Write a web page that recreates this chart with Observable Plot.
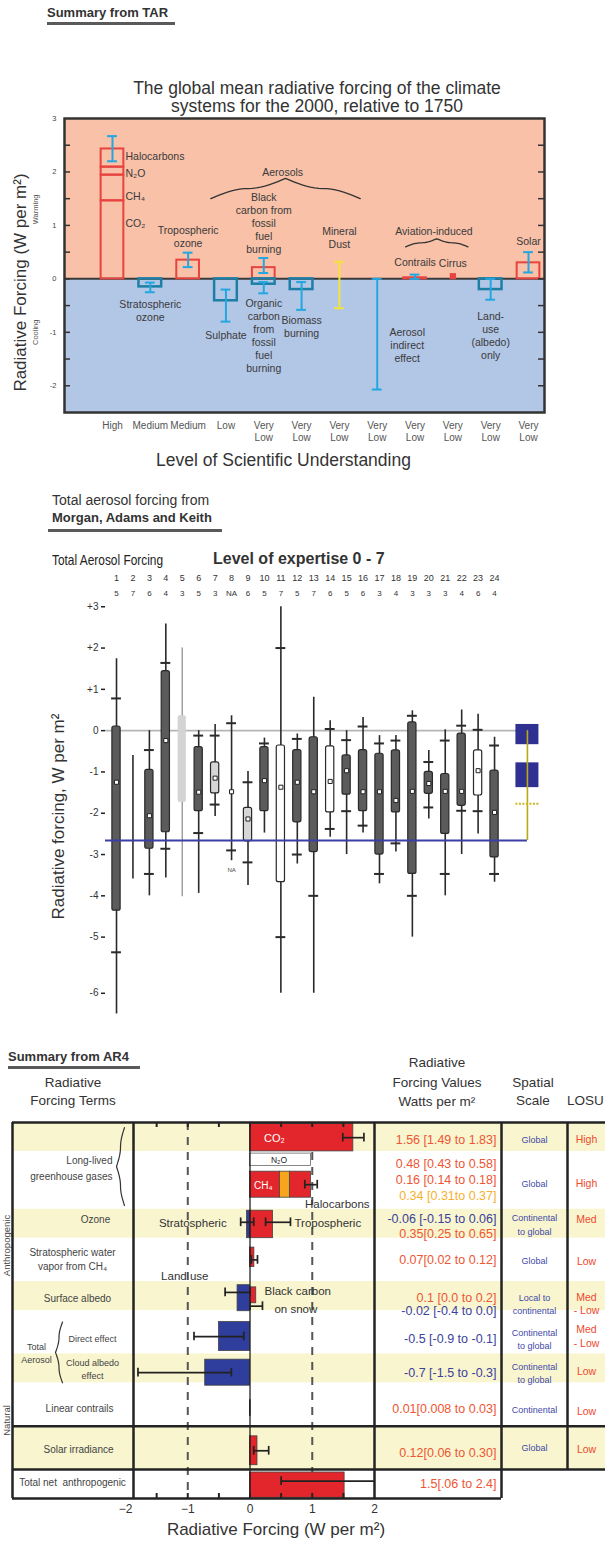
<!DOCTYPE html>
<html><head><meta charset="utf-8"><title>Radiative forcing summaries</title>
<script src="https://cdn.jsdelivr.net/npm/d3@7"></script>
<script src="https://cdn.jsdelivr.net/npm/@observablehq/plot@0.6"></script>
<style>
html,body{margin:0;padding:0;background:#fff;}
#page{position:relative;width:605px;height:1541px;overflow:hidden;font-family:'Liberation Sans',Arial,Helvetica,sans-serif;color:#222;}
.t{position:absolute;white-space:nowrap;line-height:1.2;}
.c{text-align:center;}
.rule{position:absolute;background:#5a5a5a;}
.rot{position:absolute;width:120px;height:11px;line-height:11px;text-align:center;transform:rotate(-90deg);font-size:9.5px;color:#444;}
</style></head>
<body><div id="page">
<div class="t" style="left:47px;top:5px;font-size:13px;font-weight:bold;color:#333">Summary from TAR</div>
<div class="rule" style="left:47px;top:22px;width:128px;height:3px;"></div>
<div class="t c" style="left:67px;top:79px;width:500px;font-size:17.5px;line-height:18px;color:#333">The global mean radiative forcing of the climate<br>systems for the 2000, relative to 1750</div>

<div class="t" style="left:52px;top:492px;font-size:14px;color:#333">Total aerosol forcing from</div>
<div class="t" style="left:52px;top:510px;font-size:13px;font-weight:bold;color:#333">Morgan, Adams and Keith</div>
<div class="rule" style="left:48px;top:529px;width:174px;height:3px;"></div>
<div class="t" style="left:52px;top:552px;font-size:14.5px;color:#222;transform:scaleX(0.82);transform-origin:0 50%;">Total Aerosol Forcing</div>
<div class="t" style="left:213px;top:549px;font-size:16px;font-weight:bold;color:#333">Level of expertise 0 - 7</div>

<div class="t" style="left:8px;top:1049px;font-size:13px;font-weight:bold;color:#333">Summary from AR4</div>
<div class="rule" style="left:8px;top:1066px;width:132px;height:2.5px;"></div>
<div class="t c" style="left:13px;top:1074px;width:120px;font-size:13.5px;line-height:18px;color:#333">Radiative<br>Forcing Terms</div>
<div class="t c" style="left:372px;top:1053px;width:130px;font-size:13.5px;line-height:19.5px;color:#333">Radiative<br>Forcing Values<br>Watts per m²</div>
<div class="t c" style="left:493px;top:1074px;width:80px;font-size:13.5px;line-height:18px;color:#333">Spatial<br>Scale</div>
<div class="t" style="left:567px;top:1092px;font-size:13.5px;line-height:18px;color:#333">LOSU</div>
<div class="rot" style="left:-54px;top:1240px;">Anthropogenic</div>
<div class="rot" style="left:-54px;top:1415px;">Natural</div>
</div>
<script>
// ===================== DATA: TAR summary =====================
const tarSlots = ["Well-mixed greenhouse gases","Stratospheric ozone","Tropospheric ozone","Sulphate","Fossil fuel carbon","Biomass burning","Mineral dust","Aerosol indirect effect","Contrails","Cirrus","Land-use (albedo) only","Solar"];
const tarLosu = ["High","Medium","Medium","Low","Very\nLow","Very\nLow","Very\nLow","Very\nLow","Very\nLow","Very\nLow","Very\nLow","Very\nLow"];
const tarBarTerm = ["CO₂","CH₄","N₂O","Halocarbons","Stratospheric ozone","Tropospheric ozone","Sulphate","Black carbon","Organic carbon","Biomass burning","Contrails","Land use","Solar"];
const tarBarSlot = [0,0,0,0,1,2,3,4,4,5,8,10,11];
const tarBarFrom = [0,1.46,1.94,2.09,0,0,0,0,0,0,0,0,0];
const tarBarTo   = [1.46,1.94,2.09,2.43,-0.15,0.35,-0.41,0.21,-0.1,-0.2,0.02,-0.2,0.3];
const tarErrSlot = [0,1,2,3,4,4,5,6,7,8,10,11];
const tarErrLo   = [2.2,-0.25,0.22,-0.8,0.11,-0.27,-0.58,-0.55,-2.07,0,-0.39,0.12];
const tarErrHi   = [2.67,-0.07,0.49,-0.2,0.39,-0.06,-0.06,0.32,0,0.08,0,0.5];
const tarPointSlot = [9];      // cirrus
const tarPointValue = [0.05];
const tarYTicks = [-2,-1,0,1,2,3];

// ===================== DATA: Morgan, Adams & Keith =====================
const experts = d3.range(1, 25);
const expertise = ["5","7","6","4","3","5","3","NA","6","5","7","5","7","6","5","6","3","4","3","3","3","4","6","4"];
const wMax      = [1.74,-0.6,0,2.58,2.0,0,0.15,0.36,-0.99,-0.18,3.0,-0.08,0.81,0.24,0,0.32,-0.12,-0.12,0.48,-0.48,0.02,0.5,0.4,-0.16];
const upperTick = [0.78,null,-0.47,1.64,null,-0.12,-0.12,0.18,-1.25,-0.31,2.0,-0.2,null,0.04,-0.23,0.1,-0.31,-0.24,0.36,-0.76,-0.24,0.12,0.02,-0.36];
const boxTop    = [0.1,null,-0.95,1.44,0.36,-0.4,-0.77,null,-1.87,-0.4,-0.36,-0.47,-0.16,-0.38,-0.6,-0.47,-0.56,-0.48,0.2,-1.0,-1.05,-0.07,-0.48,-0.97];
const median    = [-1.25,null,-2.06,-0.24,null,-1.49,-1.15,-1.48,-2.14,-1.21,-1.37,-1.25,-1.48,-1.23,-0.97,-1.48,-1.48,-1.69,-1.47,-1.28,-1.47,-1.47,-0.97,-1.98];
const boxBottom = [-4.36,null,-2.86,-2.46,-1.74,-1.95,-1.52,null,-2.68,-1.95,-3.67,-2.22,-2.94,-1.98,-1.55,-1.95,-3.0,-1.98,-3.47,-1.53,-2.5,-1.82,-1.57,-3.07];
const lowerTick = [-5.27,null,-3.47,-2.86,null,-2.48,-1.79,-2.9,-3.19,null,-5.0,-3.0,-4.0,-2.38,-1.95,-2.3,-3.47,-2.73,-4.0,-1.86,-3.47,-1.94,-1.95,-3.47];
const wMin      = [-6.37,-3.59,-4.0,-3.57,-4.02,-3.94,-2.08,-3.15,-3.75,-2.48,-6.0,-3.23,-6.0,-2.58,-3.0,-2.48,-3.71,-2.94,-5.0,-2.14,-4.0,-3.0,-2.5,-3.67];
const boxShade  = ["dark","none","dark","dark","faint","dark","light","none","light","dark","white","dark","dark","white","dark","dark","dark","dark","dark","dark","dark","dark","white","dark"];
const summaryRanges = [[0.15,-0.34],[-0.78,-1.38]];
const summaryMean = [-1.77];
const summaryLow = [-2.66];
const mYTicks = [3,2,1,0,-1,-2,-3,-4,-5,-6];

// ===================== DATA: AR4 summary =====================
const ar4Rows = ["CO₂","CH₄, N₂O, halocarbons","Ozone","Stratospheric water vapour","Surface albedo","Aerosol direct effect","Cloud albedo effect","Linear contrails","Solar irradiance","Total net anthropogenic"];
const ar4BarTerm  = ["CO₂","CH₄","N₂O","Halocarbons","Stratospheric ozone","Tropospheric ozone","Stratospheric water vapour","Land use","Black carbon on snow","Direct effect","Cloud albedo effect","Linear contrails","Solar irradiance","Total net anthropogenic"];
const ar4BarFrom  = [0,0,0.48,0.64,0,0,0,0,0,0,0,0,0,0];
const ar4BarValue = [1.66,0.48,0.16,0.34,-0.05,0.37,0.07,-0.2,0.1,-0.5,-0.72,0.01,0.12,1.52];
const ar4ErrTerm = ["CO₂","Halocarbons","Stratospheric ozone","Tropospheric ozone","Stratospheric water vapour","Land use","Black carbon on snow","Direct effect","Cloud albedo effect","Solar irradiance","Total net anthropogenic"];
const ar4ErrLo = [1.49,0.88,-0.15,0.25,0.02,-0.4,0.0,-0.9,-1.8,0.06,0.5];
const ar4ErrHi = [1.83,1.08,0.06,0.65,0.12,0.0,0.2,-0.1,-0.3,0.30,2.4];
const ar4ValueText = ["1.56 [1.49 to 1.83]","0.48 [0.43 to 0.58]","0.16 [0.14 to 0.18]","0.34 [0.31to 0.37]","-0.06 [-0.15 to 0.06]","0.35[0.25 to 0.65]","0.07[0.02 to 0.12]","0.1 [0.0 to 0.2]","-0.02 [-0.4 to 0.0]","-0.5 [-0.9 to -0.1]","-0.7 [-1.5 to -0.3]","0.01[0.008 to 0.03]","0.12[0.06 to 0.30]","1.5[.06 to 2.4]"];
const ar4ValueKind = ["warm","warm","warm","halo","cool","warm","warm","warm","cool","cool","cool","warm","warm","warm"];
const ar4Spatial = ["Global","Global","Continental\nto global","Global","Local to\ncontinental","Continental\nto global","Continental\nto global","Continental","Global"];
const ar4Losu = ["High","High","Med","Low","Med\n- Low","Med\n- Low","Low","Low","Low"];
const ar4XTicks = [-2,-1,0,1,2];

// ===================== LAYOUT / STYLE =====================
const FONT = "'Liberation Sans', Arial, Helvetica, sans-serif";
const page = document.getElementById("page");
function place(svg, top){ svg.style.position="absolute"; svg.style.left="0px"; svg.style.top=top+"px"; page.appendChild(svg); }
function braceProfile(t){ return t < 0.5 ? 0.5*Math.sin(Math.PI*t) : 0.5 + 0.5*(1 - Math.sin(Math.PI*t)); }
function hBrace(x1, x2, yArm, yTip, n=18){
  const xm=(x1+x2)/2, pts=[];
  for(let k=0;k<=n;k++){ const t=k/n; pts.push({x:x1+(xm-x1)*t, y:yArm+(yTip-yArm)*braceProfile(t)}); }
  for(let k=1;k<=n;k++){ const t=k/n; pts.push({x:xm+(x2-xm)*t, y:yArm+(yTip-yArm)*braceProfile(1-t)}); }
  return pts;
}
function vBrace(y1, y2, xArm, xTip, n=18){
  const ym=(y1+y2)/2, pts=[];
  for(let k=0;k<=n;k++){ const t=k/n; pts.push({y:y1+(ym-y1)*t, x:xArm+(xTip-xArm)*braceProfile(t)}); }
  for(let k=1;k<=n;k++){ const t=k/n; pts.push({y:ym+(y2-ym)*t, x:xArm+(xTip-xArm)*braceProfile(1-t)}); }
  return pts;
}
// one text mark per annotation so that each can have its own offset / anchor
function labelMarks(items, base){
  return items.map(d=>Plot.text([d],{...base, text:"t", dx:d.dx||0, textAnchor:d.a||"middle",
    fontSize:d.fs||base.fontSize, lineHeight:d.lh||base.lineHeight||1.2, fill:d.c||base.fill}));
}

// ===================== PANEL 1: TAR =====================
{
  const RED="#e8443f", TEAL="#1d7fa6", CYAN="#23a7e0", DUST="#f2e43c";
  const xDom=[-1.269, 11.423], BW=0.3, CW=0.13;
  const bars = tarBarTerm.map((term,i)=>({term, slot:tarBarSlot[i], from:tarBarFrom[i], to:tarBarTo[i]}));
  const errs = tarErrSlot.map((slot,i)=>({slot, lo:tarErrLo[i], hi:tarErrHi[i], dust: tarSlots[slot]==="Mineral dust"}));
  const caps = errs.flatMap(d=>[{...d,y:d.lo},{...d,y:d.hi}]);
  const points = tarPointSlot.map((slot,i)=>({slot, v:tarPointValue[i]}));
  const labels = [
    {t:"Halocarbons",s:0,y:2.3,dx:13,a:"start"},{t:"N₂O",s:0,y:1.98,dx:13,a:"start"},
    {t:"CH₄",s:0,y:1.55,dx:13,a:"start"},{t:"CO₂",s:0,y:1.05,dx:13,a:"start"},
    {t:"Stratospheric\nozone",s:1,y:-0.58},{t:"Tropospheric\nozone",s:2,y:0.8},
    {t:"Sulphate",s:3,y:-1.05},{t:"Black\ncarbon from\nfossil\nfuel\nburning",s:4,y:1.05},
    {t:"Organic\ncarbon\nfrom\nfossil\nfuel\nburning",s:4,y:-1.05},{t:"Biomass\nburning",s:5,y:-0.88},
    {t:"Mineral\nDust",s:6,y:0.78},{t:"Aerosol\nindirect\neffect",s:7,y:-1.23,dx:30},
    {t:"Aviation-induced",s:8.5,y:0.9},{t:"Contrails",s:8,y:0.32},{t:"Cirrus",s:9,y:0.3},
    {t:"Land-\nuse\n(albedo)\nonly",s:10,y:-1.05},{t:"Solar",s:11,y:0.71},{t:"Aerosols",s:4.5,y:2.0}
  ];
  const minor = d3.range(-2, 2.51, 0.5);
  const svg = Plot.plot({
    width:605, height:365, marginTop:8, marginBottom:63, marginLeft:64, marginRight:61,
    style:{fontFamily:FONT, background:"transparent", overflow:"visible", color:"#333"},
    x:{domain:xDom, axis:null}, y:{domain:[-2.5,3], axis:null},
    marks:[
      Plot.rect([0],{x1:xDom[0],x2:xDom[1],y1:0,y2:3,fill:"#f8c1a8"}),
      Plot.rect([0],{x1:xDom[0],x2:xDom[1],y1:-2.5,y2:0,fill:"#b2c6e6"}),
      Plot.ruleY([0],{stroke:"#3a3a3a",strokeWidth:2}),
      Plot.rect(bars.filter(d=>d.to>0),{x1:d=>d.slot-BW,x2:d=>d.slot+BW,y1:"from",y2:"to",fill:"none",stroke:RED,strokeWidth:2}),
      Plot.rect(bars.filter(d=>d.to<0),{x1:d=>d.slot-BW,x2:d=>d.slot+BW,y1:"from",y2:"to",fill:"none",stroke:TEAL,strokeWidth:2.5}),
      Plot.dot(points,{x:"slot",y:"v",symbol:"square",r:3.5,fill:RED}),
      Plot.ruleX(errs.filter(d=>!d.dust),{x:"slot",y1:"lo",y2:"hi",stroke:CYAN,strokeWidth:2}),
      Plot.ruleY(caps.filter(d=>!d.dust),{y:"y",x1:d=>d.slot-CW,x2:d=>d.slot+CW,stroke:CYAN,strokeWidth:2}),
      Plot.ruleX(errs.filter(d=>d.dust),{x:"slot",y1:"lo",y2:"hi",stroke:DUST,strokeWidth:2}),
      Plot.ruleY(caps.filter(d=>d.dust),{y:"y",x1:d=>d.slot-CW,x2:d=>d.slot+CW,stroke:DUST,strokeWidth:2}),
      Plot.line(hBrace(2.6,6.55,1.5,1.88),{x:"x",y:"y",stroke:"#333",strokeWidth:1.3}),
      Plot.line(hBrace(7.75,9.4,0.6,0.75),{x:"x",y:"y",stroke:"#333",strokeWidth:1.3}),
      ...labelMarks(labels,{x:"s",y:"y",fontSize:10.5,lineHeight:1.24,fill:"#3a3a3a"}),
      Plot.frame({stroke:"#333",strokeWidth:2.5}),
      Plot.tickY(minor,{y:d=>d,insetRight:474,stroke:"#333",strokeWidth:1.5}),
      Plot.tickY(minor,{y:d=>d,insetLeft:474,stroke:"#333",strokeWidth:1.5}),
      Plot.axisY(tarYTicks,{tickSize:0,tickPadding:8,fontSize:7.5,fill:"#444",tickFormat:d=>String(d)}),
      Plot.axisX(d3.range(tarSlots.length),{tickSize:0,tickPadding:8,tickFormat:i=>tarLosu[i],fontSize:10,lineHeight:1.2,fill:"#555"}),
      Plot.text(["Level of Scientific Understanding"],{frameAnchor:"bottom",lineAnchor:"middle",textAnchor:"middle",dy:48,dx:-21,fontSize:17.5,fill:"#333"}),
      Plot.text(["Radiative Forcing (W per m²)"],{frameAnchor:"left",lineAnchor:"middle",textAnchor:"middle",rotate:-90,dx:-44,dy:17,fontSize:17,fill:"#333"}),
      Plot.text([1.3],{y:d=>d,text:()=>"Warming",frameAnchor:"left",textAnchor:"middle",rotate:-90,dx:-29,fontSize:7.5,fill:"#555"}),
      Plot.text([-1.0],{y:d=>d,text:()=>"Cooling",frameAnchor:"left",textAnchor:"middle",rotate:-90,dx:-29,fontSize:7.5,fill:"#555"})
    ]
  });
  place(svg, 110);
}

// ===================== PANEL 2: Morgan, Adams and Keith =====================
{
  const stretch = v => v >= -5 ? v : -5 + (v + 5) * 1.36;   // axis below -5 is drawn stretched
  const xDom=[0.33, 27.1], BW=0.25, TW=0.3;
  const sumX = experts.length + 2;
  const rows = experts.map((e,i)=>({e, exp:expertise[i], wMax:wMax[i], tHi:upperTick[i], bTop:boxTop[i], med:median[i], bBot:boxBottom[i], tLo:lowerTick[i], wMin:wMin[i], shade:boxShade[i]}));
  const ticks = rows.flatMap(d=>[d.tHi,d.tLo].filter(v=>v!=null).map(v=>({e:d.e,v})));
  const boxes = rows.filter(d=>d.bTop!=null);
  const shadeFill = {dark:"#5b5b5b", light:"#d6d6d6", white:"#ffffff", faint:"#d4d4d4"};
  const ranges = summaryRanges.map(([a,b])=>({a,b}));
  const fmt = v => v>0 ? "+"+v : String(v);
  const svg = Plot.plot({
    width:605, height:490, marginTop:58, marginBottom:5, marginLeft:105, marginRight:60,
    style:{fontFamily:FONT, background:"transparent", overflow:"visible", color:"#222"},
    x:{domain:xDom, axis:null}, y:{domain:[-7.14,3.2], axis:null},
    marks:[
      Plot.ruleY([0],{x1:xDom[0],x2:sumX,stroke:"#b5b5b5",strokeWidth:1.6}),
      Plot.ruleX(rows.filter(d=>d.shade!=="faint"),{x:"e",y1:d=>stretch(d.wMax),y2:d=>stretch(d.wMin),stroke:"#2a2a2a",strokeWidth:1.6}),
      Plot.ruleX(rows.filter(d=>d.shade==="faint"),{x:"e",y1:d=>stretch(d.wMax),y2:d=>stretch(d.wMin),stroke:"#9a9a9a",strokeWidth:1.4}),
      ...["dark","light","white"].map(s=>Plot.rect(boxes.filter(d=>d.shade===s),{x1:d=>d.e-BW,x2:d=>d.e+BW,y1:d=>stretch(d.bTop),y2:d=>stretch(d.bBot),fill:shadeFill[s],stroke:"#2a2a2a",strokeWidth:1.2,rx:2})),
      Plot.rect(boxes.filter(d=>d.shade==="faint"),{x1:d=>d.e-BW,x2:d=>d.e+BW,y1:d=>stretch(d.bTop),y2:d=>stretch(d.bBot),fill:shadeFill.faint,rx:2}),
      Plot.ruleY(ticks,{y:d=>stretch(d.v),x1:d=>d.e-TW,x2:d=>d.e+TW,stroke:"#2a2a2a",strokeWidth:2}),
      Plot.dot(rows.filter(d=>d.med!=null),{x:"e",y:d=>stretch(d.med),symbol:"square",r:2.3,fill:"white",stroke:"#222",strokeWidth:1}),
      Plot.text(rows.filter(d=>d.exp==="NA"),{x:"e",y:d=>stretch(d.wMin),dy:9,text:()=>"NA",fontSize:6,fill:"#444"}),
      Plot.ruleY(summaryLow,{y:d=>d,x1:xDom[0],x2:sumX,stroke:"#3b3fa3",strokeWidth:2.2}),
      Plot.rect(ranges,{x1:sumX-0.7,x2:sumX+0.7,y1:"a",y2:"b",fill:"#2e3192"}),
      Plot.ruleX([sumX],{y1:0,y2:summaryLow[0],stroke:"#b8aa14",strokeWidth:1.6}),
      Plot.ruleY(summaryMean,{y:d=>d,x1:sumX-0.7,x2:sumX+0.7,stroke:"#c9b71a",strokeWidth:2,strokeDasharray:"2,1.5"}),
      Plot.text(experts,{x:d=>d,frameAnchor:"top",lineAnchor:"middle",dy:-20,text:d=>String(d),fontSize:9,fill:"#333"}),
      Plot.text(experts,{x:d=>d,frameAnchor:"top",lineAnchor:"middle",dy:-5,text:(d,i)=>expertise[i],fontSize:8,fill:"#333"}),
      Plot.axisY(mYTicks.map(stretch),{tickSize:4,tickPadding:3,strokeWidth:1.5,fontSize:10,fill:"#333",tickFormat:t=>fmt(mYTicks.find(v=>Math.abs(stretch(v)-t)<1e-9))}),
      Plot.text([-2.08],{y:d=>d,text:()=>"Radiative forcing, W per m²",frameAnchor:"left",lineAnchor:"middle",textAnchor:"middle",rotate:-90,dx:-47,fontSize:17,fill:"#333"})
    ]
  });
  place(svg, 540);
}

// ===================== PANEL 3: AR4 =====================
{
  const xDom=[-1.872, 2];
  const YEL="#f8f5cf", RED="#e3262b", ORANGE="#f7a51c", BLUE="#2f3d9c";
  const TXT={warm:"#ee5534", cool:"#3b419c", halo:"#f4b12e"};
  // layout of the table (units of row height)
  const rowUnits=[2,4,2,3,2,3,2,3,3,2];
  const rowStart=rowUnits.map((u,i)=>d3.sum(rowUnits.slice(0,i)));
  const TOTAL=d3.sum(rowUnits);
  const rows=ar4Rows.map((name,i)=>({name,y1:rowStart[i],y2:rowStart[i]+rowUnits[i],shaded:i%2===0}));
  const barBand=[[0.1,2.0],[3.4,5.2],[3.4,5.2],[3.4,5.2],[6.1,8.0],[6.1,8.0],[8.65,10.0],[11.25,13.05],[11.4,12.5],[13.8,15.8],[16.4,18.2],[19.2,20.3],[21.7,23.7],[24.2,25.95]];
  const barFill={"CO₂":RED,"CH₄":RED,"N₂O":ORANGE,"Halocarbons":RED,"Stratospheric ozone":BLUE,"Tropospheric ozone":RED,"Stratospheric water vapour":RED,"Land use":BLUE,"Black carbon on snow":RED,"Direct effect":BLUE,"Cloud albedo effect":BLUE,"Linear contrails":"#333","Solar irradiance":RED,"Total net anthropogenic":RED};
  const errAt=[1.05,4.3,6.9,6.9,9.5,11.75,12.7,14.8,17.3,22.7,24.8];
  const valueAt=[1.24,2.84,4.0,5.05,6.7,7.68,9.54,12.17,13.0,14.94,17.29,19.78,22.82,24.97];
  const spatialAt=[1.1,4.15,7.0,9.5,12.5,14.9,17.25,19.8,22.4];
  const losuAt=[1.1,4.15,6.65,9.54,12.5,14.76,17.15,19.9,22.55];
  const bars=ar4BarTerm.map((term,i)=>({term,x1:ar4BarFrom[i],x2:ar4BarFrom[i]+ar4BarValue[i],y1:barBand[i][0],y2:barBand[i][1],fill:barFill[term]}));
  const stackTop=d3.max(bars.filter(d=>["CH₄","N₂O","Halocarbons"].includes(d.term)),d=>d.x2);
  const errs=ar4ErrTerm.map((term,i)=>({term,lo:ar4ErrLo[i],hi:ar4ErrHi[i],at:errAt[i]}));
  const errCaps=errs.flatMap(d=>[{x:d.lo,at:d.at},{x:d.hi,at:d.at}]);
  const values=ar4ValueText.map((t,i)=>({t,u:valueAt[i],c:TXT[ar4ValueKind[i]]}));
  const spatial=ar4Spatial.map((t,i)=>({t,u:spatialAt[i]}));
  const losu=ar4Losu.map((t,i)=>({t,u:losuAt[i]}));
  const terms=[
    {t:"Long-lived\ngreenhouse gases",u:3.04,dx:-21,a:"end",fs:10,lh:1.6},
    {t:"Ozone",u:6.71,dx:-38,fs:10},
    {t:"Stratospheric water\nvapor from CH₄",u:9.4,dx:-61,fs:10,lh:1.35},
    {t:"Surface albedo",u:12.17,dx:-56,fs:10},
    {t:"Total\nAerosol",u:15.9,dx:-97,fs:9,lh:1.45},
    {t:"Direct effect",u:14.94,dx:-41,fs:9},
    {t:"Cloud albedo\neffect",u:17.0,dx:-41,fs:9,lh:1.4},
    {t:"Linear contrails",u:19.78,dx:-54,fs:10},
    {t:"Solar irradiance",u:22.6,dx:-55,fs:10},
    {t:"Total net  anthropogenic",u:24.9,dx:-61,fs:10}
  ];
  const inChart=[
    {t:"CO₂",x:0,u:1.05,dx:14,a:"start",c:"#fff",fs:11},
    {t:"N₂O",x:0,u:2.58,dx:29,a:"middle",c:"#222",fs:8.5},
    {t:"CH₄",x:0,u:4.3,dx:4,a:"start",c:"#fff",fs:10},
    {t:"Halocarbons",x:stackTop,u:5.6,dx:-6,a:"start",c:"#333",fs:11.5},
    {t:"Stratospheric",x:-0.15,u:6.9,dx:-14,a:"end",c:"#333",fs:11.5},
    {t:"Tropospheric",x:0.65,u:6.9,dx:4,a:"start",c:"#333",fs:11.5},
    {t:"Land use",x:-1,u:10.6,dx:-3,a:"middle",c:"#333",fs:11.5},
    {t:"Black carbon",x:0.2,u:11.6,dx:2,a:"start",c:"#333",fs:11.5},
    {t:"on snow",x:0.2,u:12.9,dx:12,a:"start",c:"#333",fs:11.5}
  ];
  const pxPerUnit = 241/(xDom[1]-xDom[0]);
  const px = p => xDom[0] + (p-133)/pxPerUnit;
  const minor=d3.range(-1.5,1.51,0.5);
  const BORDER="#232323";
  const svg=Plot.plot({
    width:605, height:426, marginTop:7, marginBottom:43, marginLeft:133, marginRight:231,
    style:{fontFamily:FONT, background:"transparent", overflow:"visible", color:"#333"},
    x:{domain:xDom, axis:null}, y:{domain:[TOTAL,0], axis:null},
    marks:[
      Plot.rect(rows.filter(d=>d.shaded),{x1:xDom[0],x2:xDom[1],y1:"y1",y2:"y2",fill:YEL,insetLeft:-121,insetRight:-231}),
      Plot.ruleX([-1,1],{stroke:"#555",strokeWidth:2,strokeDasharray:"8,7"}),
      Plot.rect([0],{x1:0,x2:stackTop,y1:2.15,y2:3.0,fill:"white",stroke:"#666",strokeWidth:0.8}),
      ...[RED,ORANGE,BLUE,"#333"].map(f=>Plot.rect(bars.filter(d=>d.fill===f),{x1:"x1",x2:"x2",y1:"y1",y2:"y2",fill:f,stroke:"#444",strokeWidth:0.8})),
      Plot.ruleX([0],{stroke:"#111",strokeWidth:1.2}),
      Plot.ruleY(errs,{y:"at",x1:"lo",x2:"hi",stroke:"#222",strokeWidth:1.7,clip:true}),
      Plot.ruleX(errCaps,{x:"x",y1:d=>d.at-0.3,y2:d=>d.at+0.3,stroke:"#222",strokeWidth:1.7,clip:true}),
      ...labelMarks(inChart,{x:"x",y:"u",fontSize:11.5,fill:"#333"}),
      Plot.line(vBrace(0.35,5.74,px(124),px(116)),{x:"x",y:"y",stroke:"#333",strokeWidth:1.2}),
      Plot.line(vBrace(13.8,18.0,px(62),px(55)),{x:"x",y:"y",stroke:"#333",strokeWidth:1.2}),
      ...labelMarks(terms,{y:"u",frameAnchor:"left",fontSize:10,fill:"#444"}),
      Plot.text(values,{y:"u",text:"t",frameAnchor:"right",dx:122,textAnchor:"end",fontSize:12.5,fill:d=>d.c}),
      Plot.text(spatial,{y:"u",text:"t",frameAnchor:"right",dx:160,textAnchor:"middle",fontSize:9,lineHeight:1.5,fill:"#3f4aa8"}),
      Plot.text(losu,{y:"u",text:"t",frameAnchor:"right",dx:212,textAnchor:"middle",fontSize:10.5,lineHeight:1.3,fill:"#ee4a2e"}),
      Plot.ruleY([0,21,24],{insetLeft:-121,insetRight:-231,stroke:BORDER,strokeWidth:2.5}),
      Plot.ruleY([TOTAL],{insetLeft:-121,insetRight:-127,stroke:BORDER,strokeWidth:2.5}),
      Plot.ruleX([xDom[0]],{dx:-121,y1:0,y2:TOTAL,stroke:BORDER,strokeWidth:2.5}),
      Plot.ruleX([xDom[0],xDom[1]],{y1:0,y2:TOTAL,stroke:BORDER,strokeWidth:2.5}),
      Plot.ruleX([xDom[1]],{dx:127,y1:0,y2:TOTAL,stroke:BORDER,strokeWidth:2.5}),
      Plot.ruleX([xDom[1]],{dx:193,y1:0,y2:24,stroke:BORDER,strokeWidth:2.5}),
      Plot.tickX(minor,{x:d=>d,insetBottom:371,stroke:BORDER,strokeWidth:2}),
      Plot.tickX(minor,{x:d=>d,insetTop:371,stroke:BORDER,strokeWidth:2}),
      Plot.axisX(ar4XTicks,{tickSize:0,tickPadding:6,fontSize:12,fill:"#333"}),
      Plot.text(["Radiative Forcing (W per m²)"],{frameAnchor:"bottom",lineAnchor:"middle",textAnchor:"middle",dy:31,dx:22,fontSize:17,fill:"#333"})
    ]
  });
  place(svg, 1115);
}
</script>
</body></html>
